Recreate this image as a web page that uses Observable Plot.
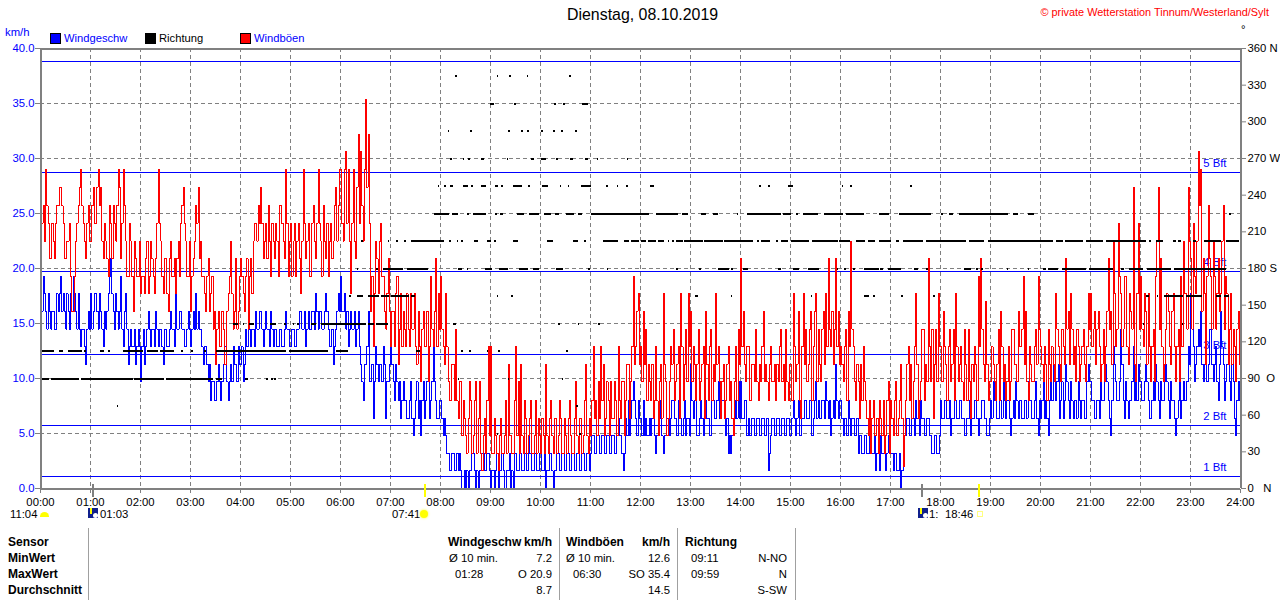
<!DOCTYPE html>
<html lang="de"><head><meta charset="utf-8">
<script src="https://cdn.jsdelivr.net/npm/d3@7"></script>
<script src="https://cdn.jsdelivr.net/npm/@observablehq/plot@0.6"></script>
<style>
html,body{margin:0;padding:0;background:#fff;overflow:hidden}
#page{position:relative;width:1280px;height:600px;font-family:"Liberation Sans",Arial,sans-serif;font-size:11.3px;color:#000}
#page svg{display:block;position:absolute;left:0;top:0;background:transparent}
.t{position:absolute;white-space:pre;line-height:14px;height:14px}
.b{font-weight:bold;font-size:12px}
.box{position:absolute}
</style></head><body><div id="page"></div>
<script>
// Windböen (km/h), read on the 3-minute marks, one row per hour
const gust = [
19.3,25.7,29.0,24.1,20.9,22.5,24.1,25.7,27.4,24.1,20.9,22.5,19.3,16.1,22.5,25.7,29.0,24.1,20.9,25.7,
22.5,27.4,24.1,29.0,27.4,20.9,22.5,19.3,24.1,25.7,22.5,29.0,20.9,29.0,22.5,19.3,22.5,16.1,20.9,19.3,
17.7,19.3,20.9,17.7,22.5,19.3,20.9,29.0,22.5,17.7,20.9,16.1,22.5,19.3,17.7,22.5,24.1,27.4,22.5,19.3,
16.1,20.9,25.7,27.4,22.5,19.3,16.1,20.9,17.7,14.5,11.3,16.1,12.9,14.5,11.3,17.7,22.5,14.5,20.9,16.1,
20.9,17.7,19.3,14.5,20.9,22.5,24.1,25.7,27.4,20.9,24.1,25.7,19.3,22.5,24.1,19.3,25.7,22.5,29.0,19.3,
24.1,22.5,19.3,24.1,17.7,29.0,20.9,24.1,19.3,25.7,20.9,29.0,22.5,25.7,20.9,19.3,24.1,22.5,27.4,25.7,
29.0,22.5,30.6,29.0,17.7,29.0,20.9,32.2,30.6,22.5,35.4,32.2,16.1,12.9,22.5,17.7,24.1,19.3,14.5,20.9,
12.9,16.1,17.7,11.3,17.7,16.1,12.9,14.5,17.7,14.5,12.9,16.1,9.7,16.1,12.9,9.7,19.3,12.9,20.9,17.7,
19.3,12.9,17.7,9.7,8.0,11.3,14.5,6.4,9.7,8.0,4.8,6.4,8.0,4.8,9.7,6.4,3.2,4.8,3.2,12.9,
12.9,3.2,4.8,1.6,6.4,3.2,8.0,11.3,4.8,3.2,12.9,9.7,11.3,3.2,6.4,4.8,8.0,3.2,8.0,6.4,
3.2,4.8,11.3,3.2,8.0,3.2,6.4,4.8,6.4,3.2,4.8,6.4,4.8,3.2,9.7,3.2,6.4,4.8,11.3,3.2,
4.8,12.9,8.0,9.7,12.9,11.3,6.4,8.0,9.7,6.4,8.0,12.9,6.4,9.7,8.0,11.3,9.7,19.3,12.9,17.7,
12.9,16.1,14.5,11.3,8.0,6.4,12.9,4.8,11.3,17.7,9.7,6.4,12.9,14.5,9.7,12.9,17.7,8.0,14.5,17.7,
16.1,12.9,8.0,14.5,9.7,12.9,16.1,8.0,14.5,11.3,17.7,12.9,6.4,11.3,8.0,12.9,9.7,4.8,12.9,14.5,
20.9,16.1,9.7,12.9,8.0,11.3,14.5,8.0,9.7,16.1,11.3,8.0,12.9,9.7,8.0,9.7,14.5,11.3,14.5,8.0,
11.3,17.7,9.7,16.1,6.4,17.7,14.5,11.3,16.1,12.9,17.7,14.5,9.7,16.1,17.7,20.9,12.9,11.3,20.9,16.1,
12.9,9.7,14.5,16.1,22.5,12.9,8.0,9.7,11.3,12.9,8.0,4.8,3.2,8.0,4.8,3.2,6.4,8.0,4.8,9.7,
8.0,4.8,9.7,6.4,11.3,2.0,8.0,12.9,11.3,9.7,17.7,6.4,9.7,14.5,11.3,20.9,9.7,6.4,14.5,17.7,
12.9,16.1,11.3,12.9,9.7,14.5,17.7,9.7,12.9,8.0,11.3,14.5,6.4,9.7,11.3,19.3,20.9,11.3,17.0,8.0,
9.7,11.3,8.0,14.5,16.1,9.7,8.0,12.9,9.7,14.5,11.3,16.1,12.9,19.3,16.1,8.0,11.3,9.7,14.5,19.3,
12.9,9.7,11.3,14.5,9.7,11.3,17.7,12.9,9.7,12.9,20.9,16.1,17.7,11.3,9.7,12.9,11.3,14.5,9.7,17.7,
17.7,14.5,11.3,16.1,9.7,14.5,12.9,20.9,16.1,22.5,12.9,24.1,17.7,14.5,19.3,11.3,16.1,27.4,9.7,24.1,
19.3,12.9,16.1,17.7,9.7,14.5,19.3,27.4,20.9,9.7,14.5,16.1,11.3,17.7,9.7,14.5,19.3,22.5,17.7,27.4,
20.9,24.1,17.7,30.6,29.0,20.9,11.3,25.7,19.3,22.5,14.5,20.9,17.7,25.7,19.3,11.3,17.7,14.5,9.7,16.1,16.1];
// Windböen read between those marks
const gustMid = [
24.1,22.5,25.7,20.9,24.1,20.9,25.7,27.4,25.7,20.9,22.5,24.1,16.1,19.3,24.1,27.4,25.7,22.5,24.1,22.5,
25.7,24.1,27.4,25.7,22.5,24.1,20.9,25.7,20.9,24.1,25.7,27.4,24.1,25.7,19.3,24.1,19.3,22.5,19.3,22.5,
19.3,17.7,22.5,19.3,20.9,17.7,24.1,24.1,19.3,20.9,17.7,20.9,19.3,20.9,20.9,19.3,25.7,24.1,19.3,22.5,
19.3,22.5,24.1,20.9,19.3,17.7,19.3,16.1,19.3,16.1,14.5,12.9,16.1,11.3,16.1,19.3,17.7,16.1,14.5,19.3,
19.3,16.1,20.9,19.3,17.7,24.1,22.5,24.1,24.1,22.5,20.9,22.5,24.1,20.9,22.5,25.7,24.1,20.9,24.1,22.5,
19.3,24.1,22.5,20.9,22.5,24.1,22.5,19.3,24.1,22.5,24.1,24.1,19.3,22.5,24.1,22.5,20.9,25.7,22.5,29.0,
24.1,29.0,24.1,22.5,24.1,22.5,27.4,24.1,25.7,29.0,27.4,24.1,19.3,17.7,20.9,22.5,19.3,16.1,17.7,16.1,
16.1,12.9,19.3,14.5,12.9,14.5,17.7,12.9,14.5,17.7,11.3,12.9,14.5,12.9,16.1,12.9,14.5,16.1,12.9,14.5,
14.5,11.3,12.9,8.0,11.3,8.0,8.0,9.7,4.8,6.4,3.2,9.7,3.2,8.0,3.2,9.7,1.6,6.4,8.0,4.8,
3.2,6.4,3.2,4.8,3.2,4.8,3.2,4.8,3.2,8.0,4.8,3.2,4.8,8.0,3.2,6.4,3.2,4.8,3.2,4.8,
6.4,3.2,4.8,6.4,4.8,6.4,3.2,8.0,3.2,6.4,3.2,8.0,3.2,6.4,4.8,6.4,3.2,8.0,4.8,6.4,
8.0,6.4,4.8,6.4,8.0,4.8,9.7,4.8,6.4,9.7,4.8,8.0,9.7,4.8,11.3,6.4,12.9,11.3,16.1,11.3,
9.7,11.3,8.0,9.7,11.3,8.0,8.0,9.7,6.4,11.3,4.8,9.7,11.3,8.0,11.3,6.4,12.9,11.3,9.7,12.9,
9.7,11.3,11.3,8.0,11.3,6.4,11.3,12.9,8.0,9.7,11.3,9.7,9.7,6.4,11.3,8.0,6.4,9.7,8.0,11.3,
12.9,11.3,12.9,8.0,11.3,9.7,9.7,11.3,12.9,9.7,9.7,11.3,9.7,11.3,11.3,12.9,9.7,8.0,9.7,11.3,
8.0,12.9,11.3,8.0,12.9,11.3,9.7,14.5,8.0,16.1,9.7,11.3,14.5,11.3,12.9,14.5,16.1,14.5,12.9,11.3,
11.3,12.9,8.0,12.9,14.5,9.7,11.3,6.4,8.0,9.7,6.4,8.0,6.4,4.8,6.4,8.0,4.8,3.2,8.0,3.2,
6.4,8.0,4.8,8.0,6.4,4.8,11.3,8.0,6.4,12.9,11.3,8.0,14.5,8.0,9.7,12.9,14.5,11.3,9.7,12.9,
9.7,12.9,8.0,14.5,11.3,8.0,12.9,11.3,9.7,14.5,8.0,9.7,11.3,12.9,8.0,12.9,14.5,9.7,11.3,9.7,
12.9,9.7,11.3,8.0,12.9,11.3,9.7,8.0,14.5,11.3,9.7,12.9,14.5,11.3,9.7,12.9,9.7,12.9,11.3,14.5,
11.3,12.9,8.0,11.3,12.9,9.7,14.5,11.3,14.5,11.3,14.5,11.3,14.5,12.9,14.5,9.7,12.9,11.3,12.9,14.5,
12.9,16.1,14.5,12.9,11.3,9.7,16.1,14.5,11.3,17.7,14.5,19.3,12.9,19.3,12.9,17.7,14.5,11.3,17.7,14.5,
14.5,17.7,11.3,12.9,12.9,9.7,22.5,14.5,12.9,11.3,17.7,12.9,16.1,12.9,12.9,9.7,12.9,17.7,14.5,22.5,
14.5,19.3,22.5,25.7,16.1,17.7,19.3,20.9,14.5,19.3,17.7,16.1,22.5,14.5,17.7,14.5,11.3,12.9,14.5,11.3];
// Windgeschw (km/h), read on the 3-minute marks, one row per hour
const wind = [
12.9,19.3,16.1,17.7,14.5,16.1,14.5,16.1,19.3,17.7,14.5,16.1,17.7,19.3,16.1,17.7,12.9,14.5,11.3,16.1,
17.7,16.1,17.7,14.5,16.1,12.9,14.5,17.7,20.9,16.1,17.7,14.5,19.3,12.9,17.7,11.3,14.5,12.9,11.3,14.5,
9.7,14.5,12.9,16.1,12.9,14.5,16.1,12.9,14.5,11.3,14.5,12.9,16.1,14.5,17.7,14.5,16.1,14.5,12.9,16.1,
12.9,16.1,17.7,16.1,14.5,11.3,12.9,9.7,8.0,9.7,8.0,11.3,8.0,11.3,12.9,8.0,11.3,12.9,11.3,12.9,
11.3,9.7,14.5,16.1,12.9,14.5,16.1,14.5,16.1,12.9,16.1,14.5,16.1,12.9,14.5,12.9,14.5,12.9,16.1,14.5,
12.9,14.5,12.9,14.5,16.1,14.5,12.9,16.1,14.5,16.1,17.7,14.5,16.1,14.5,17.7,14.5,12.9,11.3,14.5,17.7,
19.3,16.1,14.5,12.9,16.1,14.5,12.9,16.1,11.3,8.0,11.3,16.1,9.7,6.4,12.9,9.7,11.3,12.9,6.4,9.7,
12.9,9.7,11.3,8.0,6.4,9.7,8.0,6.4,9.7,4.8,8.0,6.4,4.8,9.7,8.0,11.3,8.0,12.9,8.0,6.4,
8.0,4.8,4.8,3.2,1.6,3.2,1.6,1.6,1.6,0,0,0,1.6,3.2,0,0,1.6,3.2,1.6,3.2,
0,1.6,1.6,0,1.6,1.6,0,1.6,0,0,3.2,1.6,3.2,1.6,3.2,4.8,3.2,1.6,3.2,1.6,
3.2,1.6,0,1.6,3.2,0,1.6,3.2,1.6,3.2,1.6,3.2,1.6,3.2,1.6,3.2,1.6,3.2,1.6,3.2,
3.2,4.8,3.2,4.8,3.2,4.8,3.2,4.8,3.2,4.8,3.2,6.4,4.8,1.6,6.4,8.0,6.4,9.7,6.4,8.0,
6.4,8.0,6.4,4.8,4.8,6.4,3.2,4.8,8.0,3.2,4.8,6.4,6.4,8.0,6.4,8.0,6.4,6.4,4.8,6.4,
11.3,6.4,8.0,4.8,8.0,4.8,8.0,6.4,4.8,8.0,6.4,9.7,6.4,8.0,4.8,3.2,3.2,4.8,8.0,9.7,
9.7,6.4,8.0,6.4,4.8,6.4,4.8,6.4,4.8,6.4,4.8,1.6,4.8,6.4,4.8,6.4,4.8,6.4,4.8,6.4,
4.8,8.0,4.8,8.0,4.8,6.4,8.0,6.4,8.0,6.4,9.7,8.0,6.4,8.0,9.7,6.4,4.8,8.0,11.3,6.4,
8.0,4.8,6.4,8.0,4.8,6.4,4.8,3.2,4.8,3.2,4.8,3.2,4.8,3.2,1.6,3.2,4.8,3.2,1.6,4.8,
3.2,1.6,3.2,1.6,0,3.2,4.8,6.4,4.8,6.4,8.0,6.4,8.0,6.4,4.8,6.4,4.8,3.2,4.8,3.2,
8.0,6.4,8.0,6.4,4.8,6.4,8.0,6.4,8.0,6.4,4.8,6.4,4.8,6.4,8.0,4.8,6.4,8.0,6.4,4.8,
8.0,9.7,8.0,6.4,8.0,9.7,6.4,8.0,4.8,8.0,9.7,6.4,8.0,6.4,8.0,9.7,8.0,6.4,9.7,4.8,
6.4,9.7,8.0,4.8,9.7,11.3,8.0,11.3,8.0,6.4,11.3,8.0,9.7,6.4,8.0,9.7,6.4,8.0,6.4,11.3,
9.7,8.0,6.4,8.0,9.7,8.0,11.3,8.0,4.8,12.9,9.7,8.0,14.5,8.0,9.7,6.4,8.0,12.9,9.7,11.3,
9.7,8.0,11.3,8.0,6.4,9.7,11.3,8.0,9.7,8.0,11.3,8.0,9.7,8.0,4.8,8.0,6.4,9.7,8.0,12.9,
17.7,12.9,11.3,14.5,16.1,9.7,12.9,11.3,14.5,9.7,12.9,8.0,16.1,11.3,9.7,12.9,8.0,9.7,4.8,9.7,9.7];
// Windgeschw read between those marks
const windMid = [
16.1,17.7,14.5,16.1,16.1,14.5,17.7,17.7,16.1,16.1,17.7,14.5,16.1,17.7,14.5,14.5,14.5,12.9,14.5,14.5,
14.5,17.7,16.1,17.7,14.5,16.1,16.1,19.3,17.7,14.5,16.1,16.1,14.5,16.1,14.5,12.9,12.9,14.5,12.9,12.9,
12.9,11.3,14.5,14.5,14.5,12.9,14.5,14.5,12.9,14.5,12.9,14.5,14.5,12.9,14.5,16.1,14.5,12.9,14.5,14.5,
14.5,14.5,14.5,14.5,12.9,12.9,11.3,11.3,9.7,8.0,9.7,9.7,9.7,12.9,9.7,9.7,9.7,11.3,9.7,11.3,
12.9,11.3,12.9,14.5,14.5,12.9,14.5,16.1,14.5,14.5,14.5,12.9,14.5,14.5,12.9,14.5,12.9,14.5,14.5,12.9,
14.5,12.9,14.5,16.1,14.5,16.1,14.5,14.5,16.1,14.5,16.1,16.1,14.5,16.1,16.1,12.9,14.5,12.9,16.1,16.1,
16.1,17.7,16.1,14.5,14.5,16.1,14.5,12.9,9.7,11.3,12.9,9.7,11.3,9.7,11.3,11.3,9.7,11.3,9.7,11.3,
11.3,8.0,9.7,9.7,8.0,8.0,6.4,8.0,6.4,6.4,9.7,8.0,8.0,6.4,9.7,6.4,9.7,9.7,6.4,8.0,
6.4,6.4,3.2,1.6,3.2,1.6,3.2,3.2,0,1.6,1.6,1.6,3.2,1.6,1.6,1.6,3.2,1.6,3.2,1.6,
1.6,0,3.2,1.6,3.2,0,1.6,3.2,1.6,3.2,1.6,3.2,1.6,3.2,1.6,3.2,1.6,3.2,1.6,3.2,
1.6,3.2,1.6,3.2,1.6,1.6,3.2,1.6,3.2,1.6,3.2,1.6,3.2,1.6,3.2,1.6,3.2,1.6,3.2,1.6,
4.8,3.2,4.8,3.2,4.8,3.2,4.8,3.2,4.8,3.2,4.8,4.8,3.2,3.2,4.8,4.8,8.0,8.0,4.8,6.4,
4.8,4.8,4.8,6.4,6.4,4.8,4.8,6.4,4.8,4.8,6.4,4.8,8.0,6.4,4.8,6.4,4.8,8.0,6.4,4.8,
8.0,8.0,4.8,6.4,6.4,8.0,6.4,4.8,8.0,6.4,8.0,6.4,8.0,6.4,6.4,4.8,4.8,6.4,6.4,6.4,
6.4,8.0,4.8,4.8,6.4,4.8,6.4,4.8,6.4,4.8,6.4,3.2,6.4,4.8,6.4,4.8,6.4,4.8,6.4,4.8,
6.4,6.4,6.4,4.8,6.4,8.0,6.4,8.0,4.8,8.0,6.4,6.4,8.0,6.4,8.0,8.0,6.4,6.4,8.0,8.0,
6.4,6.4,4.8,6.4,6.4,4.8,6.4,4.8,3.2,4.8,3.2,4.8,3.2,4.8,3.2,1.6,3.2,4.8,3.2,3.2,
3.2,3.2,1.6,3.2,1.6,4.8,6.4,4.8,6.4,4.8,6.4,4.8,6.4,4.8,6.4,4.8,3.2,4.8,3.2,4.8,
6.4,8.0,6.4,8.0,6.4,8.0,6.4,8.0,6.4,4.8,6.4,8.0,6.4,8.0,6.4,6.4,8.0,6.4,4.8,6.4,
6.4,8.0,6.4,8.0,6.4,8.0,8.0,6.4,6.4,6.4,8.0,8.0,6.4,8.0,6.4,8.0,6.4,8.0,6.4,8.0,
8.0,6.4,6.4,8.0,8.0,9.7,9.7,6.4,9.7,8.0,9.7,6.4,8.0,8.0,6.4,8.0,8.0,6.4,9.7,9.7,
8.0,6.4,8.0,6.4,8.0,9.7,9.7,6.4,8.0,11.3,8.0,9.7,11.3,6.4,8.0,8.0,9.7,8.0,8.0,9.7,
8.0,9.7,9.7,6.4,8.0,8.0,9.7,6.4,8.0,9.7,9.7,6.4,8.0,6.4,6.4,9.7,8.0,8.0,9.7,11.3,
14.5,9.7,12.9,12.9,11.3,11.3,9.7,14.5,11.3,11.3,9.7,11.3,12.9,8.0,11.3,9.7,11.3,6.4,8.0,8.0];
const stepMinutes = 1.5;
const gustSeries = gust.flatMap((v,i)=>i<gustMid.length?[v,gustMid[i]]:[v]);
const windSeries = wind.flatMap((v,i)=>i<windMid.length?[v,windMid[i]]:[v]);

// Richtung: runs [from minute, to minute] spent in each sector (degrees)
const dir45  = [[548,550],[647,649]];
const dir67  = [[92,94],[643,645]];
const dir90  = [[0,11],[13,47],[49,111],[113,149],[151,207],[211,218],[246,249],[271,273],[277,279],[281,283],[501,503],[561,563],[626,628]];
const dir112 = [[1,17],[23,28],[34,50],[53,55],[72,77],[81,84],[99,123],[128,141],[144,161],[169,171],[181,184],[197,199],[211,295],[299,345],[355,369],[451,456],[505,507],[515,517],[536,538],[550,552],[631,633]];
const dir135 = [[232,238],[243,245],[251,257],[276,283],[293,295],[303,305],[308,311],[325,331],[337,391],[393,401],[403,418],[496,499],[622,624],[645,647],[670,672],[1323,1325],[1370,1372]];
const dir157 = [[371,373],[380,387],[393,407],[409,419],[421,443],[445,450],[548,549],[565,568],[786,789],[829,830],[925,926],[989,995],[1000,1002],[1033,1035],[1072,1074],[1327,1331],[1340,1342],[1349,1371],[1375,1394],[1411,1417],[1421,1427]];
const dir180 = [[380,382],[403,406],[411,435],[440,465],[502,506],[512,513],[534,542],[551,562],[575,585],[592,599],[619,628],[658,660],[680,681],[763,765],[791,793],[801,802],[813,827],[829,832],[843,849],[886,889],[903,911],[921,935],[956,957],[965,967],[976,978],[989,1007],[1008,1012],[1018,1033],[1049,1053],[1063,1066],[1109,1117],[1123,1126],[1129,1132],[1160,1162],[1185,1187],[1203,1207],[1210,1222],[1226,1255],[1259,1287],[1297,1301],[1307,1323],[1328,1357],[1361,1423]];
const dir202 = [[385,388],[417,419],[427,429],[437,439],[445,467],[467,485],[491,493],[500,502],[505,507],[521,526],[536,541],[545,547],[567,573],[608,616],[639,646],[653,655],[675,693],[701,707],[709,719],[721,727],[729,739],[741,749],[753,755],[758,761],[763,771],[773,795],[797,819],[821,856],[860,863],[865,876],[883,885],[889,897],[901,923],[926,957],[959,972],[979,990],[994,1002],[1007,1021],[1027,1031],[1035,1059],[1063,1111],[1115,1133],[1137,1215],[1219,1227],[1230,1251],[1255,1275],[1279,1327],[1331,1333],[1339,1347],[1360,1363],[1366,1369],[1383,1387],[1397,1417],[1423,1439]];
const dir225 = [[473,491],[494,501],[512,515],[519,535],[546,548],[552,555],[572,581],[587,599],[605,613],[618,623],[631,641],[646,650],[661,731],[739,765],[770,777],[793,799],[807,813],[836,838],[848,889],[891,901],[907,909],[915,933],[941,963],[967,989],[1007,1019],[1031,1069],[1081,1083],[1091,1095],[1103,1161],[1167,1173],[1185,1193],[1427,1429]];
const dir247 = [[477,479],[485,487],[492,496],[508,513],[517,520],[529,535],[546,549],[553,555],[568,578],[586,588],[602,610],[624,625],[633,635],[649,661],[679,681],[692,694],[703,705],[732,737],[863,865],[874,876],[897,903],[962,964],[972,974],[1044,1046]];
const dir270 = [[492,494],[507,509],[513,516],[529,533],[560,562],[589,593],[601,607],[619,621],[636,639],[654,657],[668,670],[704,706]];
const dir292 = [[489,491],[516,518],[562,564],[577,579],[584,587],[601,603],[615,618],[625,627],[642,644]];
const dir315 = [[540,545],[569,571],[617,619],[628,630],[650,657]];
const dir337 = [[498,500],[548,550],[563,565],[584,585],[635,637]];
const dirSectors = [[45,dir45],[67.5,dir67],[90,dir90],[112.5,dir112],[135,dir135],[157.5,dir157],[180,dir180],[202.5,dir202],[225,dir225],[247.5,dir247],[270,dir270],[292.5,dir292],[315,dir315],[337.5,dir337]];

// Axes
const kmhTicks = [0,5,10,15,20,25,30,35,40];
const hourTicks = d3.range(0,1441,60);
const dirTicks = [0,30,60,90,120,150,180,210,240,270,300,330,360];
const dirNames = {0:"\u00a0\u00a0\u00a0N",90:"\u00a0\u00a0O",180:" S",270:" W",360:" N"};
const degPerKmh = 9;

// Beaufort limits (km/h)
const bftLines = [1.06,5.7,12.15,19.7,28.7,38.8];
const bftLabels = ["1 Bft","2 Bft","3 Bft","4 Bft","5 Bft"];

// Sun and moon marks (minutes of the day)
const moonMarks = [63,1058];
const sunMarks = [461,1126];

const fmtHour = m => String(Math.floor(m/60)).padStart(2,"0")+":00";

const gray = "#808080", blue = "#0000ff";
const crisp = {shapeRendering:"crispEdges"};

const chart = Plot.plot({
  width:1280, height:525,
  marginLeft:40, marginRight:40, marginTop:48, marginBottom:37,
  style:{fontFamily:'"Liberation Sans",Arial,sans-serif',fontSize:"11.3px",background:"transparent"},
  x:{domain:[0,1440],axis:null},
  y:{domain:[0,40],axis:null},
  marks:[
    Plot.ruleX(hourTicks,{y1:-0.45,y2:40,stroke:gray,strokeWidth:1,strokeDasharray:"4 3",...crisp}),
    Plot.ruleY(kmhTicks,{x1:0,x2:1440,stroke:gray,strokeWidth:1,strokeDasharray:"4 3",...crisp}),
    Plot.ruleY(bftLines,{x1:0,x2:1440,stroke:blue,strokeWidth:1,...crisp}),
    Plot.text(bftLabels,{x:()=>1440,y:(d,i)=>bftLines[i],text:d=>d,textAnchor:"end",dx:-14,dy:-9,fill:blue}),
    Plot.line(windSeries,{x:(d,i)=>i*stepMinutes,y:d=>d,curve:"step-after",stroke:blue,strokeWidth:1,...crisp}),
    Plot.line(gustSeries,{x:(d,i)=>i*stepMinutes,y:d=>d,curve:"step-after",stroke:"#ff0000",strokeWidth:1,...crisp}),
    ...dirSectors.map(([deg,runs])=>Plot.ruleY(runs,{y:()=>deg/degPerKmh,x1:d=>d[0],x2:d=>d[1],stroke:"#000",strokeWidth:2,...crisp})),
    Plot.ruleX([0,1440],{y1:0,y2:40,stroke:gray,strokeWidth:2,...crisp}),
    Plot.ruleY([0,40],{x1:0,x2:1440,stroke:gray,strokeWidth:2,...crisp}),
    Plot.ruleX(moonMarks,{y1:0.4,y2:-0.8,stroke:gray,strokeWidth:2,...crisp}),
    Plot.ruleX(sunMarks,{y1:0.4,y2:-0.8,stroke:"#ffff00",strokeWidth:2,...crisp}),
    Plot.axisY(kmhTicks,{anchor:"left",tickSize:5,tickPadding:1,color:gray,tickFormat:()=>"",label:null}),
    Plot.axisY(kmhTicks,{anchor:"left",tickSize:0,tickPadding:6,color:blue,tickFormat:d=>d.toFixed(1),label:null}),
    Plot.axisY(dirTicks.map(d=>d/degPerKmh),{anchor:"right",tickSize:5,color:gray,tickFormat:()=>"",label:null}),
    Plot.axisY(dirTicks.map(d=>d/degPerKmh),{anchor:"right",tickSize:0,tickPadding:7,color:"#000",label:null,
      tickFormat:(v,i)=>dirTicks[i]+(dirNames[dirTicks[i]]||"")}),
    Plot.axisX(hourTicks,{anchor:"bottom",tickSize:0,tickPadding:9,color:"#000",tickFormat:fmtHour,label:null})
  ]
});
const page = document.getElementById("page");
page.appendChild(chart);

function put(text,x,y,opt={}){
  const s=document.createElement("div");
  s.className="t"+(opt.bold?" b":"");
  s.textContent=text;
  s.style.top=(y-7)+"px";
  if(opt.right!==undefined){s.style.right=(1280-opt.right)+"px";}
  else s.style.left=x+"px";
  if(opt.color)s.style.color=opt.color;
  if(opt.size)s.style.fontSize=opt.size+"px";
  page.appendChild(s);return s;
}
function box(x,y,w,h,css){
  const b=document.createElement("div");
  b.className="box";
  b.style.cssText+=`left:${x}px;top:${y}px;width:${w}px;height:${h}px;${css}`;
  page.appendChild(b);return b;
}

// Header
const title = "Dienstag, 08.10.2019";
const credit = "\u00a9 private Wetterstation Tinnum/Westerland/Sylt";
const unit = "km/h";
const seriesNames = ["Windgeschw","Richtung","Windb\u00f6en"];
const seriesSwatch = ["#0000ff","#000000","#ff0000"];
const seriesInk = ["#0000ff","#000000","#0000ff"];
put(title,567,15,{size:15.9});
put(credit,0,12,{right:1269,color:"#ff0000",size:10.9});
put("\u00b0",1241,29,{color:"#000"});
put(unit,5,32,{color:blue});
[50,145,240].forEach((x,i)=>{
  box(x,33,9,9,`background:${seriesSwatch[i]};border:1px solid #000`);
  put(seriesNames[i],x+14,38,{color:seriesInk[i],size:11.2});
});

// Row under the time axis
const daylight = "11:04", moonUp = "01:03", sunUp = "07:41", moonDown = "1:", sunDown = "18:46";
put(daylight,10,514);
put(moonUp,100,514);
put(sunUp,392,514);
put(moonDown,929,514);
put(sunDown,945,514);
box(40,512,9,5,"background:#ffff00;border-radius:5px 5px 0 0");
box(420,510,8,8,"background:#ffff00;border-radius:50%;box-shadow:0 0 2px 1px #ffffa0");
box(977,511,4,4,"border:1px solid #ffff80");
[[88,508],[918,508]].forEach(([x,y])=>{
  box(x,y,10,10,"background:#10208c");
  box(x+5,y+5,5,5,"background:#fff;border-radius:50%");
  box(x+2,y,2,6,"background:#ffff00");
});

// Summary table
const rowNames = ["Sensor","MinWert","MaxWert","Durchschnitt"];
const rowY = [542,558,574,590];
const windCols = ["\u00d8 10 min.","01:28",""];
const windVals = ["7.2","O 20.9","8.7"];
const gustCols = ["\u00d8 10 min.","06:30",""];
const gustVals = ["12.6","SO 35.4","14.5"];
const dirCols = ["09:11","09:59",""];
const dirVals = ["N-NO","N","S-SW"];
rowNames.forEach((t,i)=>put(t,8,rowY[i],{bold:true}));
put("Windgeschw",448,rowY[0],{bold:true});
put("km/h",0,rowY[0],{bold:true,right:552});
put("Windb\u00f6en",566,rowY[0],{bold:true});
put("km/h",0,rowY[0],{bold:true,right:670});
put("Richtung",685,rowY[0],{bold:true});
[0,1,2].forEach(i=>{
  const y=rowY[i+1];
  put(windCols[i],i?455:449,y); put(windVals[i],0,y,{right:552});
  put(gustCols[i],i?573:566,y); put(gustVals[i],0,y,{right:670});
  put(dirCols[i],691,y);        put(dirVals[i],0,y,{right:787});
});
[88,559,677,795].forEach(x=>box(x,528,1,72,"background:#a0a0a0"));
</script></body></html>
